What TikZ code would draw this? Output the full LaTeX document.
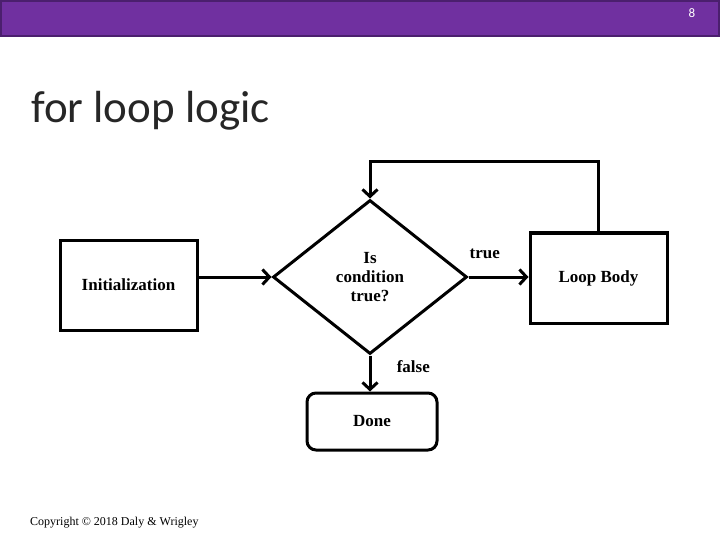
\documentclass[tikz,border=0pt]{standalone}
\usepackage{fontspec}
\setmainfont{Liberation Serif}
\newfontfamily\titlefont{Carlito}
\usetikzlibrary{shapes.geometric,arrows.meta}
\definecolor{barpurple}{HTML}{7030A0}
\definecolor{bardark}{HTML}{4B1F6E}
\definecolor{titlegray}{HTML}{262626}

\begin{document}
\begin{tikzpicture}[x=1pt, y=-1pt,
		boxtext/.style={font=\fontsize{17}{19}\selectfont\bfseries, align=center},
		blockbox/.style={draw, line width=3pt, minimum width=137pt, minimum height=90pt, inner sep=0pt, boxtext},
		decision/.style={draw, diamond, line width=3pt, minimum width=194pt, minimum height=154pt, inner sep=0pt, boxtext},
		flow/.style={line width=3pt, -{Straight Barb[length=7pt, width=15pt]}}]
			\useasboundingbox (0,0) rectangle (720,540);
			% slide header
			\draw[bardark, line width=2pt, fill=barpurple] (1,1) rectangle (719,36);
			\node[text=white, font=\titlefont\fontsize{13}{15}\selectfont] (pagenum) at (692,13) {8};
			\node[anchor=base west, text=titlegray, font=\titlefont\fontsize{45}{50}\selectfont, inner sep=0pt] (title) at (31,123) {for loop logic};
			% flow chart
			\node[blockbox] (init) at (128.5,285) {Initialization};
			\node[decision] (cond) at (370,277) {Is\\condition\\true?};
			\node[blockbox] (body) at (598.5,278) {Loop Body};
			\node[blockbox, rounded corners=9pt, minimum width=130pt, minimum height=57pt] (done) at (372,421.5) {Done};
			\draw[flow] (init.east |- cond) -- (cond.west);
			\draw[flow] (cond.east) -- (cond.east -| body.west) node[pos=0.27, above=13pt, boxtext] (truelbl) {true};
			\draw[flow] (cond.south) -- (cond.south |- done.north) node[pos=0.3, right=22pt, boxtext] (falselbl) {false};
			\draw[flow] (body.north) -- ++(0,-70) coordinate (back) -| (cond.north);
			% footer
			\node[anchor=base west, font=\fontsize{12}{14}\selectfont, inner sep=0pt] (copy) at (30,525) {Copyright \textcopyright\ 2018 Daly \& Wrigley};
\end{tikzpicture}
\end{document}
